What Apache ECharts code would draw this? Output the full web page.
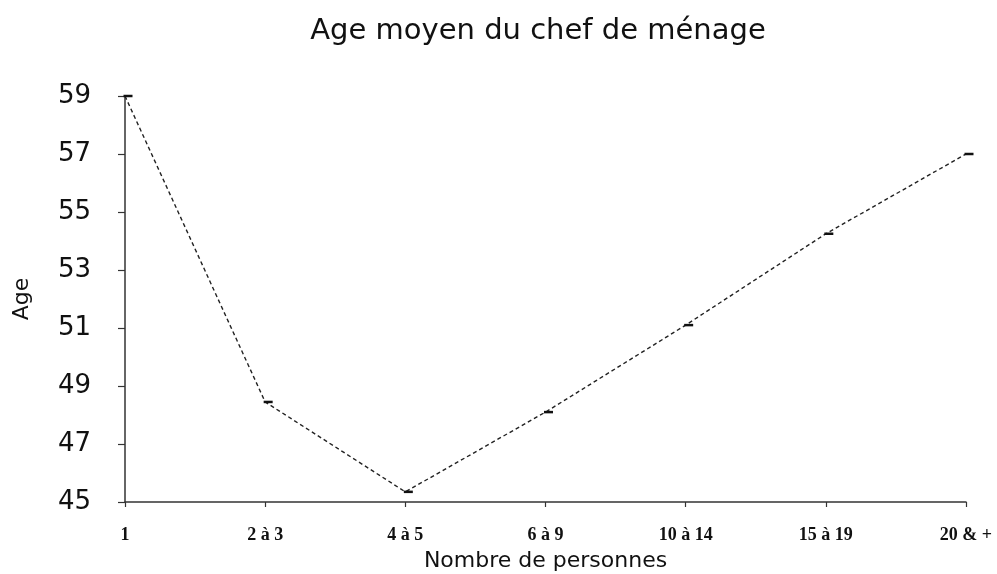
<!DOCTYPE html>
<html>
<head>
<meta charset="utf-8">
<script src="https://cdn.jsdelivr.net/npm/echarts@6/dist/echarts.min.js"></script>
<style>
  html, body { margin: 0; padding: 0; background: #fff; }
  #main { width: 997px; height: 574px; }
</style>
</head>
<body>
<div id="main"></div>
<script>
// catégories (taille du ménage) et âge moyen du chef
var categories = ['1', '2 à 3', '4 à 5', '6 à 9', '10 à 14', '15 à 19', '20 & +'];
var ageMoyen = [59.0, 48.45, 45.35, 48.1, 51.1, 54.25, 57.0];
var yTicks = [45, 47, 49, 51, 53, 55, 57, 59];

var myChart = echarts.init(document.getElementById('main'));

var option = {
    backgroundColor: '#fff',
    animation: false,
    title: {
        text: 'Age moyen du chef de ménage',
        left: 533,
        top: 12,
        textAlign: 'center',
        textStyle: {
            fontFamily: 'DejaVu Sans',
            fontWeight: 'normal',
            fontSize: 29,
            color: '#111'
        }
    },
    grid: {
        left: 125,
        right: 31,
        top: 96,
        bottom: 72,
        containLabel: false,
        outerBoundsMode: 'none'
    },
    xAxis: {
        type: 'category',
        data: categories,
        boundaryGap: false,
        name: 'Nombre de personnes',
        nameLocation: 'middle',
        nameGap: 48,
        nameTextStyle: {
            fontFamily: 'DejaVu Sans',
            fontSize: 22,
            color: '#111'
        },
        axisLine: { lineStyle: { color: '#333', width: 1.5 } },
        axisTick: { length: 5, lineStyle: { color: '#333', width: 1.2 } },
        axisLabel: {
            margin: 24,
            fontFamily: 'Liberation Serif',
            fontWeight: 'bold',
            fontSize: 18,
            color: '#111'
        }
    },
    yAxis: {
        type: 'value',
        min: yTicks[0],
        max: yTicks[yTicks.length - 1],
        interval: 2,
        name: 'Age',
        nameLocation: 'middle',
        nameGap: 92,
        nameRotate: 90,
        nameTextStyle: {
            fontFamily: 'DejaVu Sans',
            fontSize: 22,
            color: '#111'
        },
        axisLine: { show: true, lineStyle: { color: '#333', width: 1.5 } },
        axisTick: { show: true, length: 7, lineStyle: { color: '#333', width: 1.2 } },
        splitLine: { show: false },
        axisLabel: {
            margin: 34,
            fontFamily: 'DejaVu Sans',
            fontSize: 26,
            color: '#111'
        }
    },
    series: [
        {
            name: 'Age moyen',
            type: 'line',
            data: ageMoyen,
            symbol: 'rect',
            symbolSize: [9, 2.5],
            symbolOffset: [3, 0],
            itemStyle: { color: '#111' },
            lineStyle: {
                color: '#222',
                width: 1.4,
                type: [4, 3]
            }
        }
    ]
};

myChart.setOption(option);
</script>
</body>
</html>
